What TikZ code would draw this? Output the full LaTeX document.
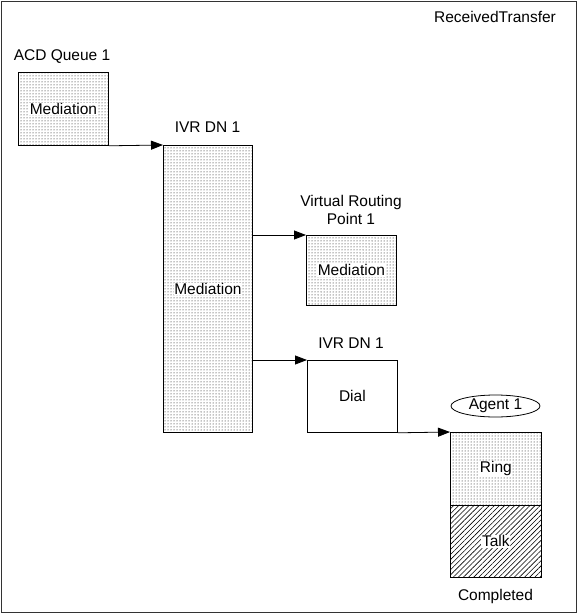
\documentclass[tikz,border=0pt]{standalone}
\usepackage{fontspec}
\setmainfont{Liberation Sans}
\usetikzlibrary{patterns.meta,shapes.geometric,arrows.meta}
\begin{document}
\begin{tikzpicture}[x=1pt,y=-1pt,
  every node/.style={font=\fontsize{15.5}{18}\selectfont},
  box/.style={draw=black,line width=0.8pt,inner sep=0pt,anchor=north west},
  dotbox/.style={box,pattern={Dots[distance=3pt,radius=0.5pt]}},
  hatchbox/.style={box,pattern={Lines[angle=45,distance=3.6pt,line width=0.6pt]}},
  intext/.style={fill=white,inner sep=0.6pt},
  lbl/.style={inner sep=0pt,align=center},
  arr/.style={line width=0.8pt,-{Triangle[length=12pt,width=9pt]}}]
\useasboundingbox (0,0) rectangle (577,613);
\node[draw=black!80,line width=0.9pt,minimum width=575.5pt,minimum height=611.5pt,inner sep=0pt,anchor=north west] (frame) at (0.7,0.7) {};
\node[lbl] (title) at (495,17) {ReceivedTransfer};
% ACD queue
\node[dotbox,minimum width=90pt,minimum height=73pt] (acd) at (18,72) {};
\node[lbl] (acdl) at (62,57) {ACD Queue 1};
\node[intext] (acdt) at (acd.center) {Mediation};
% IVR tall
\node[dotbox,minimum width=89pt,minimum height=287pt] (ivr) at (163,145) {};
\node[lbl] (ivrl) at (207.5,127) {IVR DN 1};
\node[intext] (ivrt) at (ivr.center) {Mediation};
% VRP
\node[dotbox,minimum width=90pt,minimum height=70pt] (vrp) at (306,235) {};
\node[lbl] (vrpl) at (351,210) {Virtual Routing\\Point 1};
\node[intext] (vrpt) at (vrp.center) {Mediation};
% Dial
\node[box,fill=white,minimum width=90pt,minimum height=72pt] (dial) at (307,360) {};
\node[lbl] (diall) at (351,343) {IVR DN 1};
\node[intext] (dialt) at (dial.center) {Dial};
% Agent
\node[draw=black,line width=0.8pt,ellipse,minimum width=89pt,minimum height=22pt,inner sep=0pt] (agent) at (495.5,406) {Agent 1};
\node[dotbox,minimum width=91pt,minimum height=73pt] (ring) at (450,432) {};
\node[intext] (ringt) at (ring.center) {Ring};
\node[hatchbox,minimum width=91pt,minimum height=72pt] (talk) at (450,505) {};
\node[intext] (talkt) at (talk.center) {Talk};
\node[lbl] (compl) at (495.5,596) {Completed};
% connectors
\draw[arr] (acd.south east) -- (ivr.north west);
\draw[arr] (ivr.east |- vrp.north west) -- (vrp.north west);
\draw[arr] (ivr.east |- dial.north west) -- (dial.north west);
\draw[arr] (dial.south east) -- (ring.north west);
\end{tikzpicture}
\end{document}
